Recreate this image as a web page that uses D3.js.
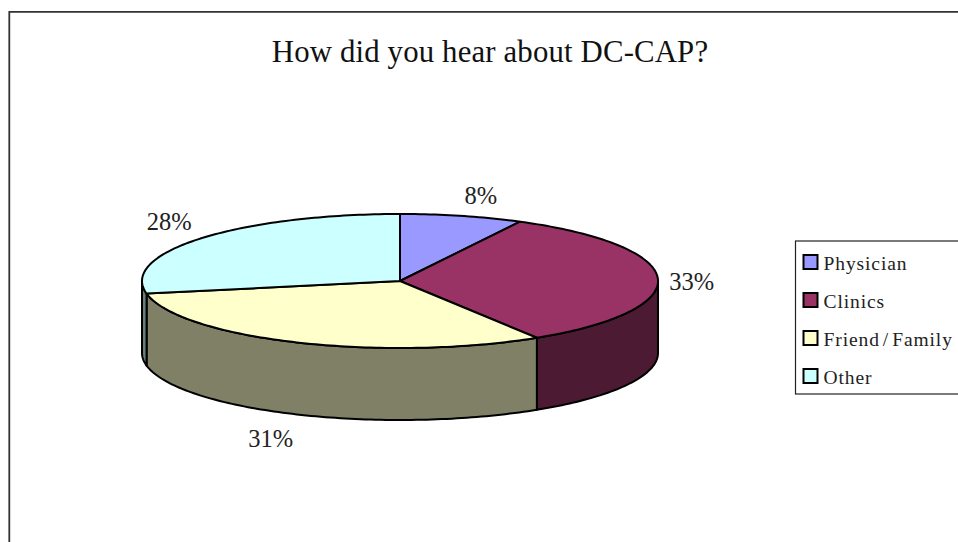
<!DOCTYPE html>
<html lang="en">
    <head>
        <meta charset="utf-8">
        <title>How did you hear about DC-CAP?</title>
        <script src="https://d3js.org/d3.v7.min.js"></script>
    </head>

    <body style="margin: 0px; background: white">
        <script type="text/javascript">

            var categories = ["Physician", "Clinics", "Friend/Family", "Other"];
            var shares = [7.7, 33.4, 30.9, 28];
            var topColours = ["#9999FF", "#993366", "#FFFFCC", "#CCFFFF"];
            var sideColours = ["#4D4D80", "#4D1A33", "#808066", "#668080"];

            var width = 958;
            var height = 542;
            var depth = 72;
            var serif = "'Liberation Serif', serif";

            var svg = d3.select("body")
                .append("svg")
                .attr("width", width)
                .attr("height", height)
                .style("display", "block");

            // outer frame runs off the right and bottom of the picture
            svg.append("path")
                .attr("d", "M9.3," + height + "V11.8H" + width)
                .attr("fill", "none")
                .attr("stroke", "#333")
                .attr("stroke-width", 1.8);

            svg.append("text")
                .attr("x", 490)
                .attr("y", 62)
                .attr("text-anchor", "middle")
                .attr("font-family", serif)
                .attr("font-size", 30.8)
                .attr("letter-spacing", 0.15)
                .attr("fill", "#111")
                .text("How did you hear about DC-CAP?");

            // unit circle squashed onto the ellipse of the pie top
            var xScale = d3.scaleLinear().domain([-1, 1]).range([142, 658]);
            var yScale = d3.scaleLinear().domain([-1, 1]).range([214, 348]);

            var slices = d3.pie().sort(null).startAngle(0).endAngle(2 * Math.PI)(shares);

            function rimPoint(a){
                return [xScale(Math.sin(a)), yScale(-Math.cos(a))];
            }

            function arcPoints(a0, a1){
                var n = Math.max(2, Math.ceil((a1 - a0) / 0.02));
                return d3.range(n + 1).map(function(i){ return rimPoint(a0 + (a1 - a0) * i / n); });
            }

            var line = d3.line();

            // side walls: only the front half of the rim is visible
            slices.forEach(function(s, i){
                var a0 = Math.max(s.startAngle, Math.PI / 2);
                var a1 = Math.min(s.endAngle, 3 * Math.PI / 2);
                if(a1 <= a0) return;
                var top = arcPoints(a0, a1);
                var bottom = top.slice().reverse().map(function(p){ return [p[0], p[1] + depth]; });
                svg.append("path")
                    .attr("d", line(top.concat(bottom)) + "Z")
                    .attr("fill", sideColours[i])
                    .attr("stroke", "black")
                    .attr("stroke-width", 2)
                    .attr("stroke-linejoin", "round");
            });

            slices.forEach(function(s, i){
                var pts = arcPoints(s.startAngle, s.endAngle);
                pts.push([xScale(0), yScale(0)]);
                svg.append("path")
                    .attr("d", line(pts) + "Z")
                    .attr("fill", topColours[i])
                    .attr("stroke", "black")
                    .attr("stroke-width", 2)
                    .attr("stroke-linejoin", "round");
            });

            // percent labels, nudged off the rim at each slice's middle
            var nudgeX = [19, 34, -26, -32];
            var nudgeY = [-12, 12, 105, -8];

            slices.forEach(function(s, i){
                var p = rimPoint((s.startAngle + s.endAngle) / 2);
                svg.append("text")
                    .attr("x", p[0] + nudgeX[i])
                    .attr("y", p[1] + nudgeY[i])
                    .attr("text-anchor", "middle")
                    .attr("font-family", serif)
                    .attr("font-size", 24.5)
                    .attr("fill", "#222")
                    .text(Math.round(shares[i]) + "%");
            });

            // legend
            svg.append("rect")
                .attr("x", 795.5)
                .attr("y", 241)
                .attr("width", 175)
                .attr("height", 153)
                .attr("fill", "white")
                .attr("stroke", "#222")
                .attr("stroke-width", 1.2);

            var legendY = d3.scalePoint().domain(categories).range([262, 376]);

            categories.forEach(function(name, i){
                svg.append("rect")
                    .attr("x", 803.5)
                    .attr("y", legendY(name) - 7)
                    .attr("width", 14)
                    .attr("height", 14)
                    .attr("fill", topColours[i])
                    .attr("stroke", "black")
                    .attr("stroke-width", 2);

                var label = svg.append("text")
                    .attr("x", 823.5)
                    .attr("y", legendY(name) + 7.5)
                    .attr("font-family", serif)
                    .attr("font-size", 19.5)
                    .attr("letter-spacing", 0.9)
                    .attr("fill", "#222");

                // the slash sits wider apart in the original font
                name.split(/(\/)/).forEach(function(part, j){
                    label.append("tspan")
                        .attr("dx", j > 0 ? 3 : 0)
                        .text(part);
                });
            });
        </script>
    </body>
</html>
